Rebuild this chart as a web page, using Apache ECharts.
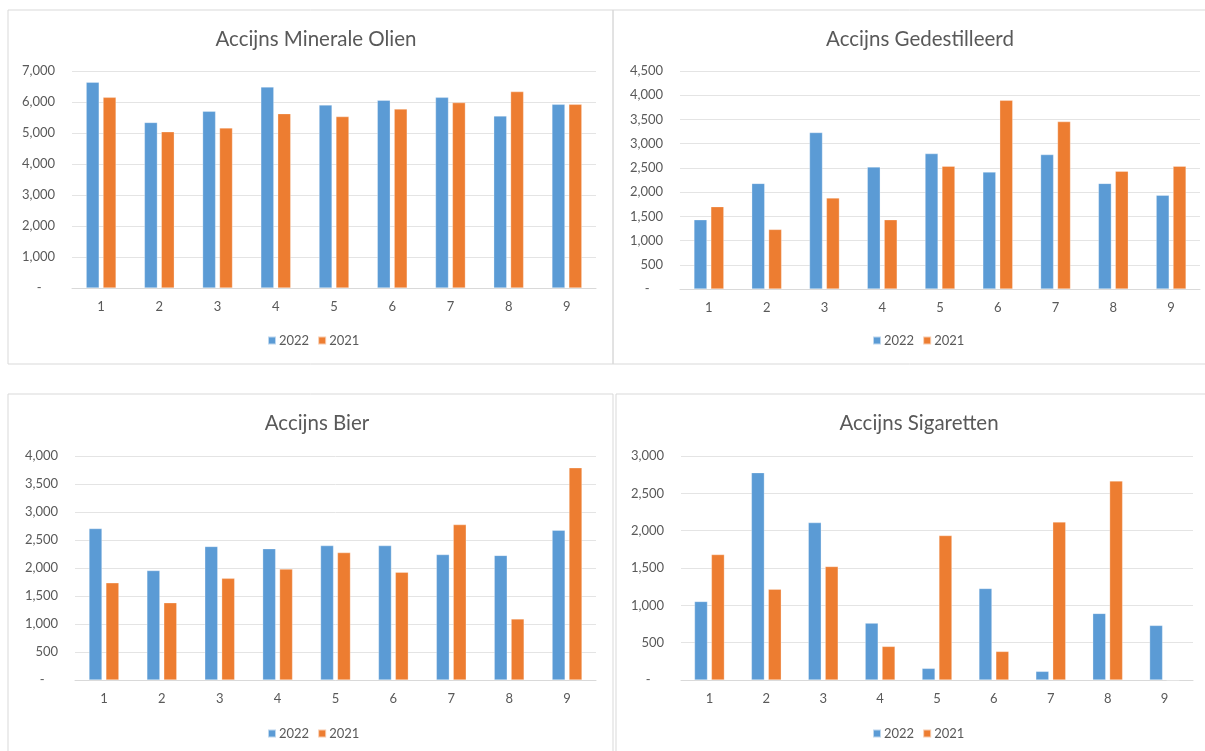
<!DOCTYPE html>
<html>
<head>
<meta charset="utf-8">
<script src="https://cdn.jsdelivr.net/npm/echarts@6/dist/echarts.min.js"></script>
<style>
html,body{margin:0;padding:0;background:#fff;}
#c{width:1205px;height:751px;}
</style>
</head>
<body>
<div id="c"></div>
<script>
const categories = ['1','2','3','4','5','6','7','8','9'];
const seriesNames = ['2022','2021'];

const titles = ['Accijns Minerale Olien','Accijns Gedestilleerd','Accijns Bier','Accijns Sigaretten'];

const olien2022 = [6640,5340,5700,6485,5905,6055,6150,5550,5925];
const olien2021 = [6150,5040,5165,5625,5530,5775,5980,6335,5925];

const gedest2022 = [1430,2180,3230,2520,2795,2415,2775,2180,1935];
const gedest2021 = [1700,1230,1880,1430,2535,3895,3455,2430,2535];

const bier2022 = [2705,1955,2385,2345,2400,2400,2240,2225,2675];
const bier2021 = [1735,1380,1815,1980,2275,1925,2775,1090,3790];

const sig2022 = [1052,2777,2108,762,156,1226,116,892,731];
const sig2021 = [1680,1217,1520,450,1935,383,2117,2666,0];

const yMax = [7000,4500,4000,3000];
const yInterval = [1000,500,500,500];

const dataSets = [[olien2022,olien2021],[gedest2022,gedest2021],[bier2022,bier2021],[sig2022,sig2021]];

// layout
const grids = [
  {left:72, top:71, width:524, height:217},
  {left:680, top:71, width:520, height:218},
  {left:75, top:456, width:521, height:224},
  {left:681, top:456, width:512, height:224}
];
const titlePos = [
  {x:311, y:24},{x:915, y:24},{x:312, y:408},{x:914, y:408}
];
const legendPos = [
  {x:314, y:329},{x:919, y:329},{x:314, y:722},{x:919, y:722}
];
const panels = [
  {x:8, y:10, w:605, h:354},
  {x:613, y:10, w:600, h:354},
  {x:8, y:394, w:605, h:370},
  {x:616, y:394, w:600, h:370}
];

const COLORS = ['#5B9BD5','#ED7D31'];
const TXT = '#595959';
const FONT = 'Lato, "Open Sans", sans-serif';

const fmt = v => v === 0 ? '-    ' : v.toLocaleString('en-US');

const option = {
  animation:false,
  textStyle:{fontFamily:FONT},
  title: titles.map((t,i)=>({
    text:t, left:titlePos[i].x, top:titlePos[i].y, textAlign:'center',
    textStyle:{fontSize:20.5, fontWeight:'normal', color:TXT, fontFamily:FONT}
  })),
  legend: legendPos.map((p,i)=>({
    data:seriesNames, left:p.x-52, top:p.y, itemWidth:8, itemHeight:8, itemGap:8,
    icon:'rect', textStyle:{fontSize:13, color:TXT, fontFamily:FONT, padding:[0,0,0,-2]}
  })),
  grid: grids.map(g=>Object.assign({containLabel:false}, g)),
  xAxis: grids.map((g,i)=>({
    type:'category', gridIndex:i, data:categories,
    axisLine:{lineStyle:{color:'#D9D9D9'}}, axisTick:{show:false},
    axisLabel:{color:TXT, fontSize:13, margin:12, fontFamily:FONT}
  })),
  yAxis: grids.map((g,i)=>({
    type:'value', gridIndex:i, min:0, max:yMax[i], interval:yInterval[i],
    axisLine:{show:false}, axisTick:{show:false},
    splitLine:{lineStyle:{color:'#E4E4E4'}},
    axisLabel:{color:TXT, fontSize:13, margin:17, formatter:fmt, fontFamily:FONT}
  })),
  series: [],
  graphic: panels.map(p=>({
    type:'rect', shape:{x:p.x, y:p.y, width:p.w, height:p.h},
    style:{fill:'none', stroke:'#D9D9D9', lineWidth:1}, silent:true, z:-1
  }))
};

dataSets.forEach((ds,i)=>{
  ds.forEach((d,j)=>{
    option.series.push({
      type:'bar', name:seriesNames[j], xAxisIndex:i, yAxisIndex:i,
      data:d, barWidth:13, barGap:'30%',
      itemStyle:{color:COLORS[j], borderColor:'rgba(255,255,255,0.6)', borderWidth:0.5}
    });
  });
});

const chart = echarts.init(document.getElementById('c'));
chart.setOption(option);
</script>
</body>
</html>
